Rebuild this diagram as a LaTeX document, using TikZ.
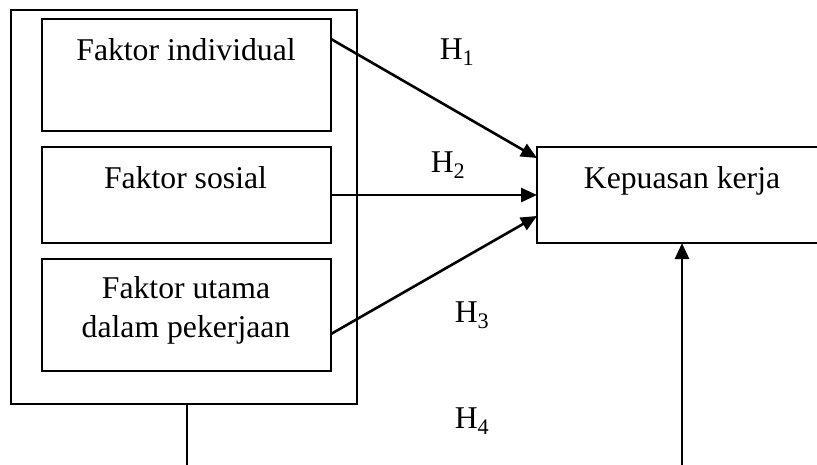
\documentclass[tikz,border=0pt]{standalone}
\usepackage{fontspec}
\setmainfont{Liberation Serif}
\usetikzlibrary{calc,arrows.meta}
\begin{document}
\begin{tikzpicture}[x=1pt,y=-1pt,
  box/.style={draw,rectangle,inner sep=0pt,outer sep=0pt,line width=2pt},
  txt/.style={anchor=base,inner sep=0pt,font=\fontsize{31.7}{38}\selectfont},
  conn/.style={line width=2.2pt},
  arr/.style={line width=2.6pt,-{Triangle[length=16pt,width=14pt]}}]
\useasboundingbox (0,0) rectangle (817,464);
\clip (0,0) rectangle (817,464);
\node[box,minimum width=346pt,minimum height=394pt] (outer) at (184,207) {};
\node[box,minimum width=289pt,minimum height=112pt] (b1) at (186.5,75) {};
\node[box,minimum width=289pt,minimum height=96pt] (b2) at (186.5,195) {};
\node[box,minimum width=289pt,minimum height=112pt] (b3) at (186.5,315) {};
\node[box,minimum width=290pt,minimum height=96pt] (k) at (682,195) {};
\node[txt] (t1) at (186,60) {Faktor individual};
\node[txt] (t2) at (185.5,188) {Faktor sosial};
\node[txt] (t3a) at (186,298) {Faktor utama};
\node[txt] (t3b) at (186,337) {dalam pekerjaan};
\node[txt] (tk) at (682,188) {Kepuasan kerja};
\node[txt] (h1) at (457,59) {H\textsubscript{1}};
\node[txt] (h2) at (448,172) {H\textsubscript{2}};
\node[txt] (h3) at (472,322) {H\textsubscript{3}};
\node[txt] (h4) at (472,428) {H\textsubscript{4}};
\draw[arr] ($(b1.north east)+(0,20)$) -- ($(k.west)+(0,-37)$);
\draw[arr] (b2.east) -- (k.west);
\draw[arr] ($(b3.east)+(0,19)$) -- ($(k.west)+(0,21)$);
\coordinate (e1) at (187,470);
\coordinate (e2) at (682,470);
\draw[conn] (outer.south -| e1) -- (e1);
\draw[arr] (e2) -- (k.south);
\end{tikzpicture}
\end{document}
